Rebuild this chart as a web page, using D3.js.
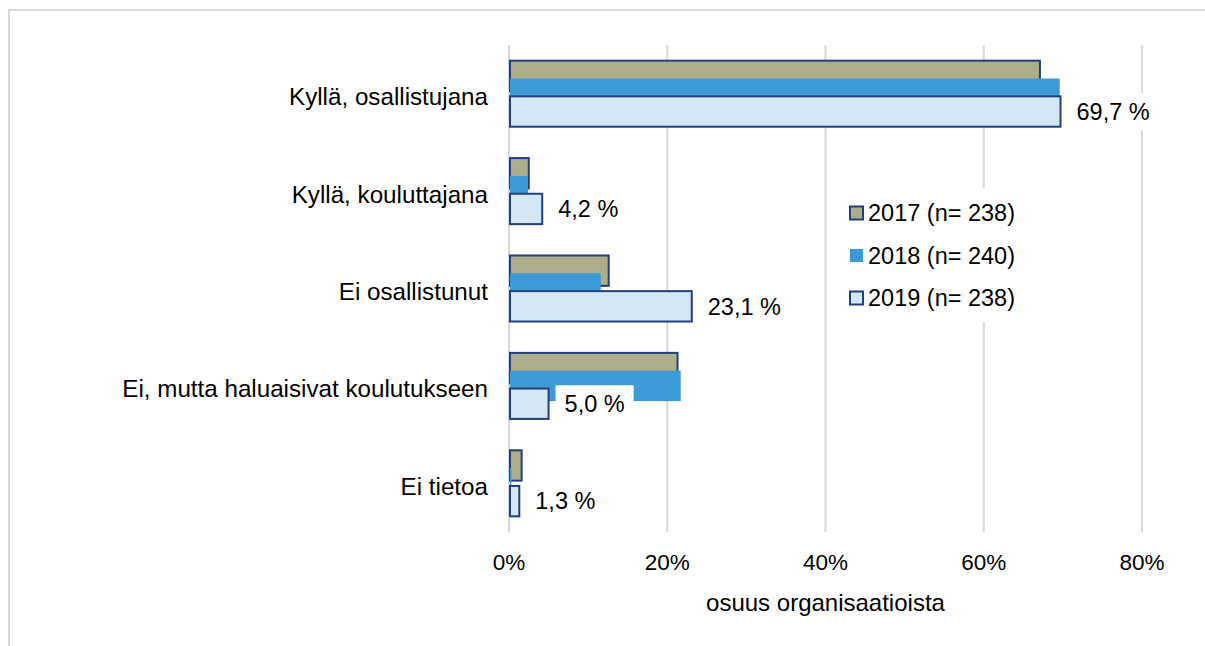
<!DOCTYPE html>
<html>
<head>
<meta charset="utf-8">
<script src="https://cdn.jsdelivr.net/npm/d3@7"></script>
<style>
  html, body { margin: 0; padding: 0; background: #fff; }
  svg { display: block; font-family: "Liberation Sans", Arial, sans-serif; }
</style>
</head>
<body>
<svg id="chart" width="1205" height="646"></svg>
<script>
// Participation in training, share of organisations per year
const categories = [
  "Kyllä, osallistujana",
  "Kyllä, kouluttajana",
  "Ei osallistunut",
  "Ei, mutta haluaisivat koulutukseen",
  "Ei tietoa"
];
const seriesNames = ["2017 (n= 238)", "2018 (n= 240)", "2019 (n= 238)"];
const values2017 = [67.1, 2.5, 12.6, 21.3, 1.6];
const values2018 = [69.6, 2.4, 11.6, 21.7, 0.3];
const values2019 = [69.7, 4.2, 23.1, 5.0, 1.3];
const xTicks = [0, 20, 40, 60, 80];
const xTitle = "osuus organisaatioista";

const series = [
  { name: seriesNames[0], values: values2017, fill: "#ADAE89", stroke: "#22407F" },
  { name: seriesNames[1], values: values2018, fill: "#3C9AD6", stroke: "none" },
  { name: seriesNames[2], values: values2019, fill: "#D3E7F5", stroke: "#22407F" }
];

const svg = d3.select("#chart");
const FONT = 23.5;
const CAT_FONT = 24.2;

// outer frame
svg.append("rect")
  .attr("x", 9).attr("y", 10)
  .attr("width", 1220).attr("height", 660)
  .attr("fill", "none").attr("stroke", "#D9D9D9").attr("stroke-width", 2);

const x = d3.scaleLinear().domain([0, 80]).range([509, 1142]);
const y = d3.scaleBand().domain(categories).range([45, 532])
  .paddingInner(0.322).paddingOuter(0.161);

const bw = y.bandwidth();
const barH = bw * 0.46;
const sub = d3.scalePoint().domain(seriesNames).range([0, bw - barH]);

// vertical gridlines
svg.append("g").selectAll("line").data(xTicks).join("line")
  .attr("x1", d => x(d)).attr("x2", d => x(d))
  .attr("y1", 45).attr("y2", 532)
  .attr("stroke", "#D9D9D9").attr("stroke-width", 2);

// bars, one series after another so later years sit on top
series.forEach(s => {
  svg.append("g").selectAll("rect").data(categories).join("rect")
    .attr("x", x(0) + 1)
    .attr("y", c => y(c) + sub(s.name))
    .attr("width", (c, i) => Math.max(0, x(s.values[i]) - x(0) - 1))
    .attr("height", barH)
    .attr("fill", s.fill)
    .attr("stroke", s.stroke)
    .attr("stroke-width", s.stroke === "none" ? 0 : 2);
});

// value labels for 2019 with white background boxes
const last = series[2];
const labels = svg.append("g");
categories.forEach((c, i) => {
  const v = last.values[i];
  const cy = y(c) + sub(last.name) + barH / 2;
  const tx = x(v) + 16;
  const g = labels.append("g");
  const box = g.append("rect").attr("fill", "#fff");
  const t = g.append("text")
    .attr("x", tx).attr("y", cy)
    .attr("dy", "0.35em")
    .attr("font-size", FONT)
    .attr("fill", "#000")
    .text(d3.format(".1f")(v).replace(".", ",") + " %");
  const w = t.node().getComputedTextLength();
  box.attr("x", tx - 9).attr("y", cy - 18.5)
    .attr("width", w + 18).attr("height", 37);
});

// category labels
svg.append("g").selectAll("text").data(categories).join("text")
  .attr("x", 488)
  .attr("y", c => y(c) + bw / 2 + 3)
  .attr("dy", "0.35em")
  .attr("text-anchor", "end")
  .attr("font-size", CAT_FONT)
  .attr("fill", "#000")
  .text(c => c);

// x tick labels
svg.append("g").selectAll("text").data(xTicks).join("text")
  .attr("x", d => x(d))
  .attr("y", 562)
  .attr("dy", "0.35em")
  .attr("text-anchor", "middle")
  .attr("font-size", 22.5)
  .attr("fill", "#000")
  .text(d => d + "%");

// axis title
svg.append("text")
  .attr("x", (x(0) + x(80)) / 2)
  .attr("y", 603)
  .attr("dy", "0.35em")
  .attr("text-anchor", "middle")
  .attr("font-size", 24)
  .attr("fill", "#000")
  .text(xTitle);

// legend
const legend = svg.append("g");
legend.append("rect")
  .attr("x", 828).attr("y", 188)
  .attr("width", 205).attr("height", 134)
  .attr("fill", "#fff");
const rowY = d3.scalePoint().domain(seriesNames).range([213, 298]);
series.forEach(s => {
  const cy = rowY(s.name);
  legend.append("rect")
    .attr("x", 850).attr("y", cy - 6.5)
    .attr("width", 13).attr("height", 13)
    .attr("fill", s.fill)
    .attr("stroke", s.stroke)
    .attr("stroke-width", s.stroke === "none" ? 0 : 2);
  legend.append("text")
    .attr("x", 868).attr("y", cy)
    .attr("dy", "0.35em")
    .attr("font-size", FONT)
    .attr("fill", "#000")
    .text(s.name);
});
</script>
</body>
</html>
